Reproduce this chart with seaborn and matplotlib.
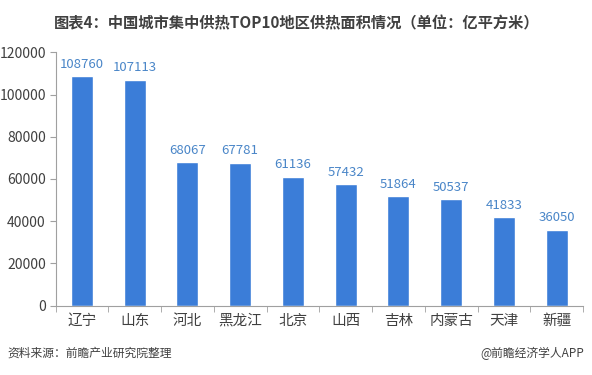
import matplotlib
matplotlib.use("Agg")
import matplotlib.pyplot as plt
import seaborn as sns
import pandas as pd
import numpy as np

regions = ["辽宁", "山东", "河北", "黑龙江", "北京", "山西", "吉林", "内蒙古", "天津", "新疆"]
areas = [108760, 107113, 68067, 67781, 61136, 57432, 51864, 50537, 41833, 36050]
y_ticks = [0, 20000, 40000, 60000, 80000, 100000, 120000]

title = "图表4：中国城市集中供热TOP10地区供热面积情况（单位：亿平方米）"
source = "资料来源：前瞻产业研究院整理"
credit = "@前瞻经济学人APP"

sns.set_style("white")
plt.rcParams['font.family'] = ['Noto Sans CJK SC', 'DejaVu Sans']

df = pd.DataFrame({"region": regions, "area": areas})

fig = plt.figure(figsize=(5.92, 3.75), dpi=100)
ax = fig.add_axes([0.0938, 0.185, 0.891, 0.6755])

sns.barplot(data=df, x="region", y="area", color="#3b7dd8", saturation=1,
            width=0.42, ax=ax)

for i, v in enumerate(areas):
    ax.text(i, v + 2500, str(v), ha="center", va="bottom",
            fontsize=9.5, color="#4a86c8")

ax.set_xlim(-0.5, len(regions) - 0.5)
ax.set_ylim(0, 120000)
ax.set_yticks(y_ticks)
ax.set_yticklabels([str(t) for t in y_ticks], fontsize=10, color="#404040")
ax.set_xlabel("")
ax.set_ylabel("")

# category labels without ticks; boundary ticks between categories
ax.tick_params(axis="x", which="major", length=0, labelsize=10.5,
               labelcolor="#404040", pad=6)
ax.set_xticks(np.arange(-0.5, len(regions), 1.0), minor=True)
ax.tick_params(axis="x", which="minor", length=4, color="#a0a0a0",
               direction="out", bottom=True)
ax.tick_params(axis="y", length=4, color="#a0a0a0", direction="out",
               left=True, pad=3)

for side in ["top", "right"]:
    ax.spines[side].set_visible(False)
for side in ["left", "bottom"]:
    ax.spines[side].set_color("#a0a0a0")
    ax.spines[side].set_linewidth(0.8)

fig.text(0.502, 0.939, title, ha="center", va="center", fontsize=11,
         fontweight="bold", color="#404040")
fig.text(0.013, 0.057, source, ha="left", va="center", fontsize=8.5,
         style="italic", color="#404040")
fig.text(0.986, 0.057, credit, ha="right", va="center", fontsize=8.5,
         color="#404040")

fig.savefig("out.png", dpi=100)
